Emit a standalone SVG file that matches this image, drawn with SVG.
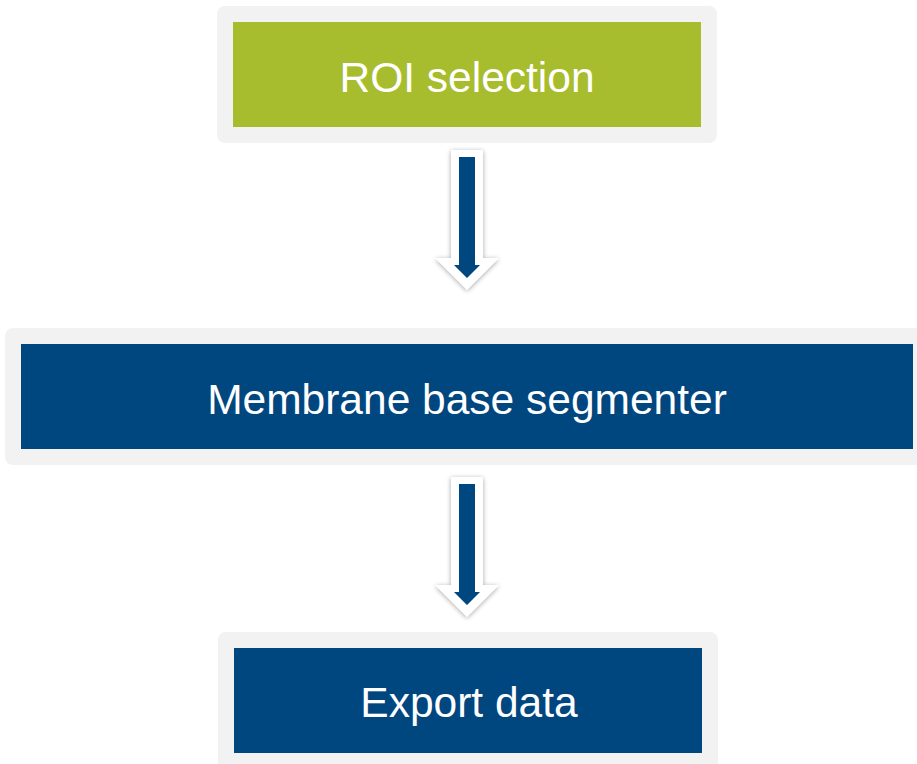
<svg xmlns="http://www.w3.org/2000/svg" width="917" height="764" viewBox="0 0 917 764">
<style>
.frame{fill:#f2f2f2}
.green{fill:#a8bd2d}
.blue{fill:#00467f}
.lbl{font-family:"Liberation Sans",Arial,sans-serif;font-size:42.5px;fill:#ffffff;text-anchor:middle}
.aout{fill:#ffffff;filter:url(#sh)}
.ain{fill:#00467f}
</style>
<defs>
<filter id="sh" x="-50%" y="-20%" width="200%" height="140%">
<feGaussianBlur in="SourceAlpha" stdDeviation="2.5"/>
<feOffset dx="0" dy="1" result="b"/>
<feComponentTransfer in="b" result="c"><feFuncA type="linear" slope="0.35"/></feComponentTransfer>
<feMerge><feMergeNode in="c"/><feMergeNode in="SourceGraphic"/></feMerge>
</filter>
</defs>
<rect width="917" height="764" fill="#ffffff"/>
<g id="node-roi">
<rect class="frame" x="217" y="6" width="500" height="137" rx="8"/>
<rect class="green" x="233" y="22" width="468" height="105"/>
<text class="lbl" x="467" y="92">ROI selection</text>
</g>
<g id="node-membrane">
<rect class="frame" x="5" y="328" width="920" height="137" rx="8"/>
<rect class="blue" x="21" y="344" width="892" height="105"/>
<text class="lbl" x="467" y="414">Membrane base segmenter</text>
</g>
<g id="node-export">
<rect class="frame" x="218" y="632" width="500" height="145" rx="8"/>
<rect class="blue" x="234" y="648" width="468" height="105"/>
<text class="lbl" x="469" y="717">Export data</text>
</g>
<g id="connectors">
<g id="arrow1">
<path class="aout" d="M451,150 H483 V258 H499 L467,290 L435,258 H451 Z"/>
<path class="ain" d="M459,157 H475 V265 H480 L467,278 L454,265 H459 Z"/>
</g>
<g id="arrow2">
<path class="aout" d="M451,477 H483 V585 H499 L467,617 L435,585 H451 Z"/>
<path class="ain" d="M459,484 H475 V592 H480 L467,605 L454,592 H459 Z"/>
</g>
</g>
</svg>
